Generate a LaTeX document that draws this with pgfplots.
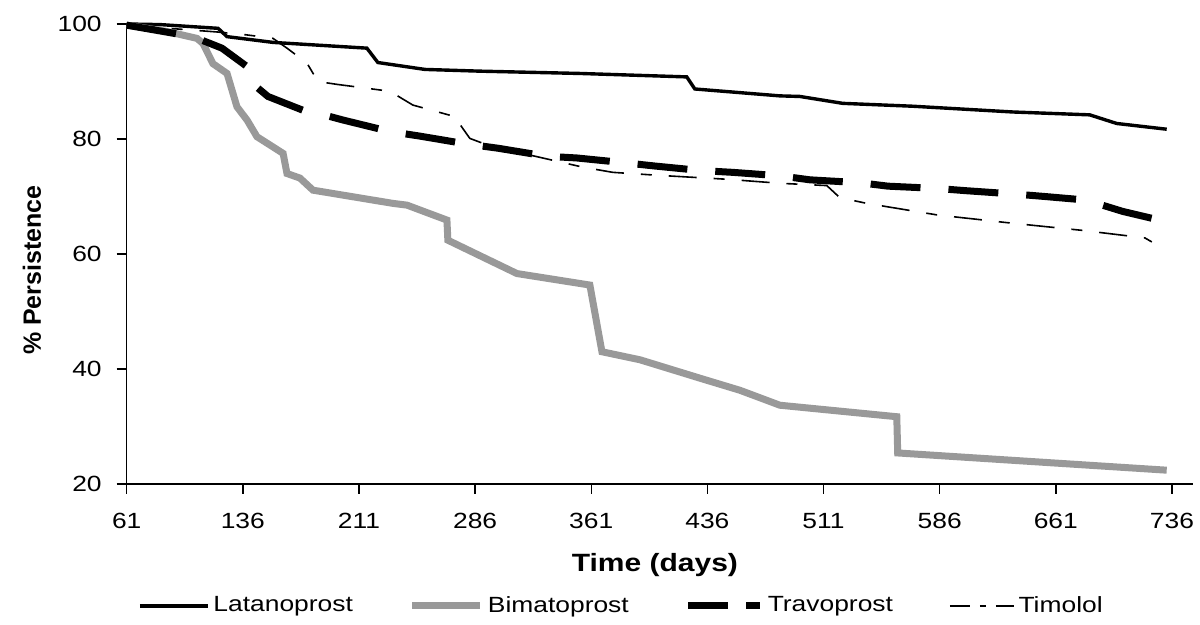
\documentclass[border=0pt]{standalone}
\usepackage{fontspec}
\setmainfont{Liberation Sans}[FakeStretch=1.2]
\newfontfamily\ylabfont{Liberation Sans}
\usepackage{pgfplots}
\pgfplotsset{compat=1.18}

\begin{document}
\begin{tikzpicture}
\begin{axis}[
    at={(0,0)}, anchor=south west,
    scale only axis, width=533pt, height=230pt,
    xmin=61, xmax=749.4, ymin=20, ymax=100,
    clip=false,
    axis lines*=left,
    axis line style={line width=0.7pt},
    xtick={61,136,211,286,361,436,511,586,661,736},
    ytick={20,40,60,80,100},
    tick align=outside, major tick length=5pt,
    tick style={line width=0.7pt, black},
    /pgf/number format/assume math mode=true,
    ticklabel style={font=\fontsize{11}{13}\selectfont},
    xticklabel style={yshift=-6pt},
    yticklabel style={xshift=-4pt},
    xlabel={Time (days)},
    ylabel={\% Persistence},
    xlabel style={at={(axis description cs:0.4955,-0.176)}, anchor=center,
        font=\bfseries\fontsize{12.5}{15}\selectfont},
    ylabel style={at={(axis description cs:-0.0889,0.465)}, anchor=center,
        font=\ylabfont\bfseries\fontsize{12.5}{15}\selectfont},
    legend style={at={(axis description cs:0.465,-0.265)}, anchor=center,
        draw=none, fill=none, legend columns=4,
        font=\fontsize{11}{13}\selectfont,
        /tikz/every even column/.append style={column sep=26pt}},
    legend image code/.code={\draw[#1] (0pt,0pt) -- (34pt,0pt);},
]
% Latanoprost
\addplot[black, line width=1.7pt] coordinates {
(61,100)(82.5,99.9)(120,99.25)(125.8,97.8)(155.5,96.8)(216.1,95.8)(223.2,93.3)
(253.6,92.1)(289,91.8)(353.6,91.4)(422.7,90.8)(427.9,88.7)(482.8,87.5)(495.7,87.4)
(523.4,86.2)(568.6,85.7)(633.2,84.7)(682.9,84.2)(700.3,82.7)(732.6,81.7)};
\addlegendentry{Latanoprost}
% Bimatoprost
\addplot[black!40, line width=3.5pt] coordinates {
(61,99.8)(87,98.7)(106.4,97.5)(110.3,96.6)(116.7,93.1)(125.8,91.4)(132.2,85.6)
(138.7,83.3)(145.1,80.4)(162,77.5)(164.5,74.0)(172.9,73.2)(181.3,71.1)(233,68.8)
(242,68.5)(267.8,65.9)(268.4,62.4)(313,56.6)(360.1,54.6)(367.9,43.0)(392.5,41.6)
(431.2,38.4)(457,36.3)(482.8,33.7)(558.3,31.7)(558.9,25.4)(732.6,22.4)};
\addlegendentry{Bimatoprost}
% Travoprost
\addplot[black, line width=3.5pt, dash pattern=on 25pt off 14pt,
    legend image code/.code={\draw[black,line width=3.5pt]
        (0pt,0pt) -- (20pt,0pt) (29pt,0pt) -- (36pt,0pt);}] coordinates {
(61,99.8)(103.8,97.8)(122.5,95.8)(138.7,92.6)(139.3,90.3)(152.2,87.4)(174.8,85.0)
(181.3,84.7)(200.7,83.3)(231,81.3)(250.4,80.5)(281.3,79.1)(300.7,78.4)(332.4,77.0)
(351.7,76.7)(381.4,75.9)(402.1,75.3)(432.4,74.5)(452.4,74.2)(482.8,73.6)(502.2,72.9)
(534.5,72.4)(552.5,71.8)(584.2,71.4)(603.5,71.0)(635.8,70.4)(653.9,70.0)(679.7,69.4)
(686.2,68.9)(704.3,67.4)(732.6,65.6)};
\addlegendentry{Travoprost}
% Timolol
\addplot[black, line width=0.8pt, dash pattern=on 14pt off 8.5pt on 5.5pt off 8.5pt,
    legend image code/.code={\draw[black,line width=0.8pt]
        (0pt,0pt) -- (10pt,0pt) (15pt,0pt) -- (18pt,0pt) (23pt,0pt) -- (32pt,0pt);}] coordinates {
(61,99.8)(120,98.6)(138.7,98.1)(155.5,97.5)(164.5,95.8)(177.4,93.2)(184.5,90.0)
(196.8,89.5)(231,88.3)(245.8,85.9)(274.2,83.8)(274.2,83.3)(282.6,80.1)(295.5,78.8)
(355.6,75.1)(374.9,74.2)(403.3,73.7)(448.5,73.0)(482.8,72.3)(513.1,71.9)(521.5,69.8)
(539,68.8)(584.2,66.8)(631.3,65.4)(678.4,64.1)(718.5,62.8)(723,62.1)};
\addlegendentry{Timolol}
\end{axis}
\pgfresetboundingbox
\path (-63.35pt,-70.5pt) rectangle (536.65pt,242pt);
\end{tikzpicture}
\end{document}
